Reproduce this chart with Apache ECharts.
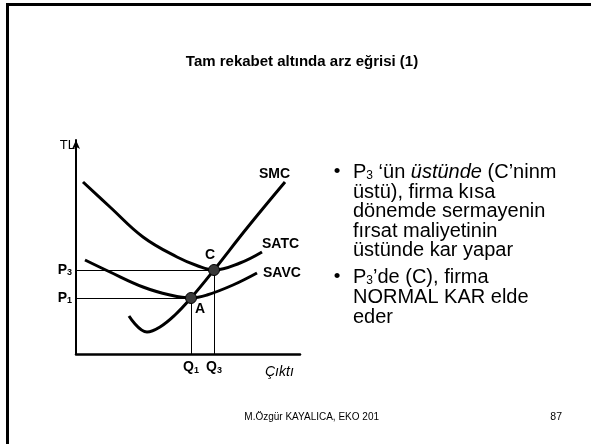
<!DOCTYPE html>
<html>
<head>
<meta charset="utf-8">
<script src="https://cdn.jsdelivr.net/npm/echarts@6/dist/echarts.min.js"></script>
<style>
  html, body { margin: 0; padding: 0; background: #fff; }
  #chart { width: 591px; height: 444px; }
</style>
</head>
<body>
<div id="chart"></div>
<script>
// curves: [output, price]
const smc  = [[53,38],[71,22],[84,27],[99,39],[115,56],[138,84],[171,126],[209,172]];
const satc = [[7,172],[34,147],[67,117],[101,97],[122,88],[138,84],[164,91],[186,102]];
const savc = [[9,94],[34,82],[67,67],[94,59],[115,56],[131,59],[157,69],[181,81]];
const pointA = [115,56];
const pointC = [138,84];
const priceTicks = [56,84];
const priceSubs = ['1','3'];
const qtyTicks = [115,138];
const qtySubs = ['1','3'];

const FONT = 'Liberation Sans, Arial, Helvetica, sans-serif';

const subRich = {
  p: { fontSize: 14, fontWeight: 'bold', fontFamily: FONT, color: '#000' },
  s: { fontSize: 9, fontWeight: 'bold', fontFamily: FONT, color: '#000', verticalAlign: 'bottom', padding: [6,0,0,0] }
};

// bullet text lines on the right
const textLines = [
  '{t|P}{s|3}{t| \u2018ün }{i|üstünde}{t| (C\u2019ninm}',
  '{t|üstü), firma kısa}',
  '{t|dönemde sermayenin}',
  '{t|fırsat maliyetinin}',
  '{t|üstünde kar yapar}',
  '{t|P}{s|3}{t|\u2019de (C), firma}',
  '{t|NORMAL KAR elde}',
  '{t|eder}'
];
const lineY = [172, 192, 211, 231, 250, 277, 297, 317];
const bulletRows = [0, 5];

const textRich = {
  t: { fontSize: 20, fontFamily: FONT, fill: '#000' },
  i: { fontSize: 20, fontFamily: FONT, fontStyle: 'italic', fill: '#000' },
  s: { fontSize: 12, fontFamily: FONT, fill: '#000', verticalAlign: 'bottom', padding: [8,0,0,0] }
};

const graphics = [
  { type: 'rect', shape: { x: 7.5, y: 4.5, width: 620, height: 480 },
    style: { fill: 'none', stroke: '#000', lineWidth: 3 }, silent: true },
  { type: 'text', style: { text: 'Tam rekabet altında arz eğrisi (1)', x: 302, y: 62,
      font: 'bold 15px ' + FONT, fill: '#000', align: 'center', verticalAlign: 'middle' } },
  { type: 'text', style: { text: 'M.Özgür KAYALICA, EKO 201', x: 379, y: 417,
      font: '10px ' + FONT, fill: '#000', align: 'right', verticalAlign: 'middle' } },
  { type: 'text', style: { text: '87', x: 562, y: 417,
      font: '10.5px ' + FONT, fill: '#000', align: 'right', verticalAlign: 'middle' } },
  { type: 'text', style: { text: 'Çıktı', x: 265, y: 372,
      font: 'italic 14px ' + FONT, fill: '#000', align: 'left', verticalAlign: 'middle' } }
];
textLines.forEach((txt, i) => {
  graphics.push({ type: 'text', style: { text: txt, x: 353, y: lineY[i], rich: textRich,
    align: 'left', verticalAlign: 'middle' } });
});
bulletRows.forEach(r => {
  graphics.push({ type: 'text', style: { text: '•', x: 337, y: lineY[r],
    font: '19px ' + FONT, fill: '#000', align: 'center', verticalAlign: 'middle' } });
});

const curveStyle = { color: '#000', width: 3 };

const chart = echarts.init(document.getElementById('chart'));
chart.setOption({
  backgroundColor: '#fff',
  animation: false,
  grid: { left: 76, top: 140, width: 224, height: 214, containLabel: false, outerBoundsMode: 'none' },
  xAxis: {
    type: 'value', min: 0, max: 224,
    axisLine: { lineStyle: { color: '#000', width: 2.5 } },
    axisTick: { show: false },
    splitLine: { show: false },
    axisLabel: {
      customValues: qtyTicks,
      margin: 6,
      formatter: v => '{p|Q}{s|' + qtySubs[qtyTicks.indexOf(v)] + '}',
      rich: subRich
    }
  },
  yAxis: {
    type: 'value', min: 0, max: 214,
    name: 'TL', nameLocation: 'end', nameGap: -5,
    nameTextStyle: { fontSize: 13, fontFamily: FONT, color: '#000', align: 'right', verticalAlign: 'middle', padding: [0, 1, 0, 0] },
    axisLine: { lineStyle: { color: '#000', width: 2 }, symbol: ['none', 'arrow'], symbolSize: [6, 9] },
    axisTick: { show: false },
    splitLine: { show: false },
    axisLabel: {
      customValues: priceTicks,
      margin: 4,
      formatter: v => '{p|P}{s|' + priceSubs[priceTicks.indexOf(v)] + '}',
      rich: subRich
    }
  },
  graphic: graphics,
  series: [
    {
      name: 'SMC', type: 'line', data: smc, smooth: 0.4, symbol: 'none',
      lineStyle: curveStyle, z: 3,
      endLabel: { show: true, formatter: 'SMC', offset: [-34, -8], fontSize: 14, fontWeight: 'bold', fontFamily: FONT, color: '#000' }
    },
    {
      name: 'SATC', type: 'line', data: satc, smooth: 0.4, symbol: 'none',
      lineStyle: curveStyle, z: 3,
      endLabel: { show: true, formatter: 'SATC', offset: [-8, -8], fontSize: 14, fontWeight: 'bold', fontFamily: FONT, color: '#000' }
    },
    {
      name: 'SAVC', type: 'line', data: savc, smooth: 0.4, symbol: 'none',
      lineStyle: curveStyle, z: 3,
      endLabel: { show: true, formatter: 'SAVC', offset: [-2, 0], fontSize: 14, fontWeight: 'bold', fontFamily: FONT, color: '#000' }
    },
    {
      name: 'points', type: 'scatter', z: 5,
      symbolSize: 11,
      itemStyle: { color: '#3a3a3a', borderColor: '#000', borderWidth: 1, opacity: 1 },
      label: { show: true, position: 'inside', fontSize: 14, fontWeight: 'bold', fontFamily: FONT, color: '#000' },
      data: [
        { value: pointA, label: { formatter: 'A', offset: [9, 11] } },
        { value: pointC, label: { formatter: 'C', offset: [-4, -15] } }
      ],
      markLine: {
        silent: true, symbol: 'none', animation: false,
        label: { show: false },
        lineStyle: { color: '#000', width: 1, type: 'solid' },
        data: [
          [{ coord: [0, pointC[1]] }, { coord: pointC }],
          [{ coord: [0, pointA[1]] }, { coord: pointA }],
          [{ coord: [pointA[0], 0] }, { coord: pointA }],
          [{ coord: [pointC[0], 0] }, { coord: pointC }]
        ]
      }
    }
  ]
});
</script>
</body>
</html>
